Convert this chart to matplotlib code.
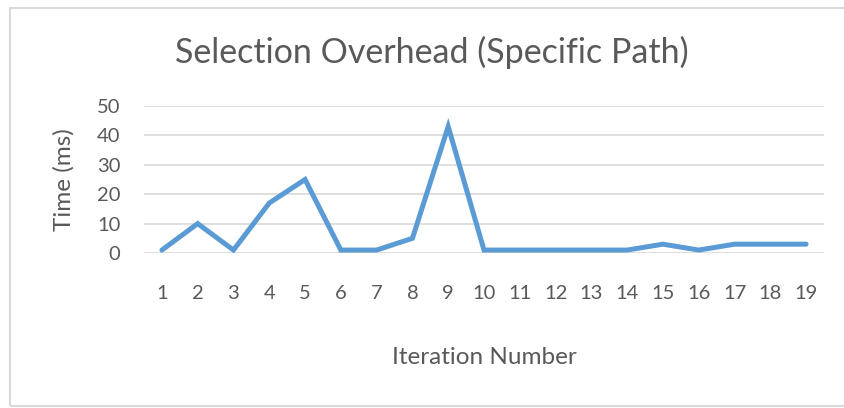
import matplotlib
matplotlib.use("Agg")
import matplotlib.pyplot as plt
from matplotlib.patches import Rectangle

iterations = [str(i) for i in range(1, 20)]
times = [1, 10, 1, 17, 25, 1, 1, 5, 43, 1, 1, 1, 1, 1, 3, 1, 3, 3, 3]
yticks = [0, 10, 20, 30, 40, 50]

plt.rcParams['font.family'] = ['Lato', 'DejaVu Sans']
txt = '#595959'

fig = plt.figure(figsize=(8.44, 4.08), dpi=100)
ax = fig.add_axes([144/844, 1-253/408, 680/844, 147/408])
x = list(range(len(iterations)))
ax.plot(x, times, color='#5B9BD5', linewidth=3.6, solid_joinstyle='miter', solid_capstyle='round', zorder=3)
ax.set_xlim(-0.5, len(iterations)-0.5)
ax.set_ylim(0, 50)
ax.set_yticks(yticks)
ax.set_xticks(x)
ax.set_xticklabels(iterations)
ax.grid(axis='y', color='#D9D9D9', linewidth=1.2)
ax.set_axisbelow(True)
for s in ax.spines.values():
    s.set_visible(False)
ax.tick_params(length=0, labelsize=14.5, colors=txt)
ax.tick_params(axis='x', pad=23)
ax.tick_params(axis='y', pad=17)
ax.set_ylabel('Time (ms)', fontsize=17.5, color=txt)
ax.yaxis.set_label_coords((64-144)/680, 0.5)
ax.set_xlabel('Iteration Number', fontsize=17.5, color=txt)
ax.xaxis.set_label_coords(0.5, -(358-253)/147)
ax.xaxis.label.set_va('center')
ax.yaxis.label.set_va('center')
fig.text(432/844, 1-52/408, 'Selection Overhead (Specific Path)', fontsize=24.5, color=txt,
         ha='center', va='center')
fig.patches.append(Rectangle((10/844, 2/408), 900/844, 398/408, transform=fig.transFigure, fill=False, edgecolor='#D9D9D9', linewidth=1.5))
fig.savefig('out.png', dpi=100)
